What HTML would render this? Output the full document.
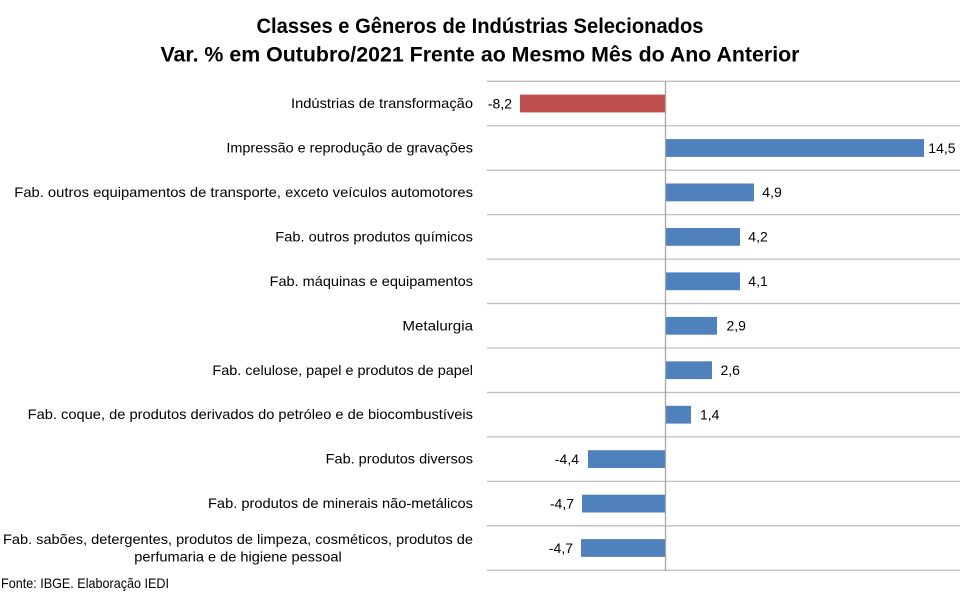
<!DOCTYPE html>
<html><head><meta charset="utf-8"><style>
html,body{margin:0;padding:0;background:#fff;}
svg{display:block;}
text{font-family:"Liberation Sans",Arial,sans-serif;fill:#000;}
.t{font-weight:bold;font-size:21px;}
.c{font-size:14px;}
.d{font-size:14px;}
</style></head><body>
<svg width="960" height="595" viewBox="0 0 960 595" xmlns="http://www.w3.org/2000/svg">
<rect width="960" height="595" fill="#fff"/>
<text class="t" x="480" y="33" text-anchor="middle" textLength="447" lengthAdjust="spacingAndGlyphs">Classes e Gêneros de Indústrias Selecionados</text>
<text class="t" x="480" y="61.5" text-anchor="middle" textLength="639" lengthAdjust="spacingAndGlyphs">Var. % em Outubro/2021 Frente ao Mesmo Mês do Ano Anterior</text>
<g stroke="#bfbfbf" stroke-width="1.3">
<line x1="487" x2="960" y1="81.3" y2="81.3"/>
<line x1="487" x2="960" y1="125.75" y2="125.75"/>
<line x1="487" x2="960" y1="170.2" y2="170.2"/>
<line x1="487" x2="960" y1="214.65" y2="214.65"/>
<line x1="487" x2="960" y1="259.1" y2="259.1"/>
<line x1="487" x2="960" y1="303.55" y2="303.55"/>
<line x1="487" x2="960" y1="348" y2="348"/>
<line x1="487" x2="960" y1="392.45" y2="392.45"/>
<line x1="487" x2="960" y1="436.9" y2="436.9"/>
<line x1="487" x2="960" y1="481.35" y2="481.35"/>
<line x1="487" x2="960" y1="525.8" y2="525.8"/>
<line x1="487" x2="960" y1="570.25" y2="570.25"/>
</g>
<g fill="#4f81bd">
<rect x="520" y="94.6" width="145.5" height="17.8" fill="#c0504d"/>
<rect x="666" y="139.1" width="258" height="17.8"/>
<rect x="666" y="183.5" width="88" height="17.8"/>
<rect x="666" y="228" width="74" height="17.8"/>
<rect x="666" y="272.4" width="74" height="17.8"/>
<rect x="666" y="316.9" width="51" height="17.8"/>
<rect x="666" y="361.3" width="46" height="17.8"/>
<rect x="666" y="405.8" width="25" height="17.8"/>
<rect x="588" y="450.2" width="77.5" height="17.8"/>
<rect x="582" y="494.7" width="83.5" height="17.8"/>
<rect x="581" y="539.1" width="84.5" height="17.8"/>
</g>
<line x1="665.5" x2="665.5" y1="81" y2="571" stroke="#a6a6a6" stroke-width="1.3"/>
<g class="c" text-anchor="end">
<text x="473" y="108" textLength="182" lengthAdjust="spacingAndGlyphs">Indústrias de transformação</text>
<text x="473" y="152.5" textLength="246.6" lengthAdjust="spacingAndGlyphs">Impressão e reprodução de gravações</text>
<text x="473" y="197" textLength="458.7" lengthAdjust="spacingAndGlyphs">Fab. outros equipamentos de transporte, exceto veículos automotores</text>
<text x="473" y="241.4" textLength="197.7" lengthAdjust="spacingAndGlyphs">Fab. outros produtos químicos</text>
<text x="473" y="285.9" textLength="203.4" lengthAdjust="spacingAndGlyphs">Fab. máquinas e equipamentos</text>
<text x="473" y="330.3" textLength="70.6" lengthAdjust="spacingAndGlyphs">Metalurgia</text>
<text x="473" y="374.8" textLength="260.6" lengthAdjust="spacingAndGlyphs">Fab. celulose, papel e produtos de papel</text>
<text x="473" y="419.2" textLength="445.3" lengthAdjust="spacingAndGlyphs">Fab. coque, de produtos derivados do petróleo e de biocombustíveis</text>
<text x="473" y="463.7" textLength="147.3" lengthAdjust="spacingAndGlyphs">Fab. produtos diversos</text>
<text x="473" y="508.1" textLength="265" lengthAdjust="spacingAndGlyphs">Fab. produtos de minerais não-metálicos</text>
<text x="473" y="543.8" textLength="470" lengthAdjust="spacingAndGlyphs">Fab. sabões, detergentes, produtos de limpeza, cosméticos, produtos de</text>
</g>
<text class="c" x="238" y="561.3" text-anchor="middle" textLength="207.4" lengthAdjust="spacingAndGlyphs">perfumaria e de higiene pessoal</text>
<text class="c" x="1" y="588" textLength="168" lengthAdjust="spacingAndGlyphs">Fonte: IBGE. Elaboração IEDI</text>
<g class="d">
<text x="512" y="108.3" text-anchor="end">-8,2</text>
<text x="928.3" y="152.8">14,5</text>
<text x="762.3" y="197.2">4,9</text>
<text x="748.3" y="241.7">4,2</text>
<text x="748.3" y="286.1">4,1</text>
<text x="726.5" y="330.6">2,9</text>
<text x="720.5" y="375">2,6</text>
<text x="700" y="419.5">1,4</text>
<text x="579" y="463.9" text-anchor="end">-4,4</text>
<text x="574" y="508.4" text-anchor="end">-4,7</text>
<text x="573" y="552.8" text-anchor="end">-4,7</text>
</g>
</svg>
</body></html>
